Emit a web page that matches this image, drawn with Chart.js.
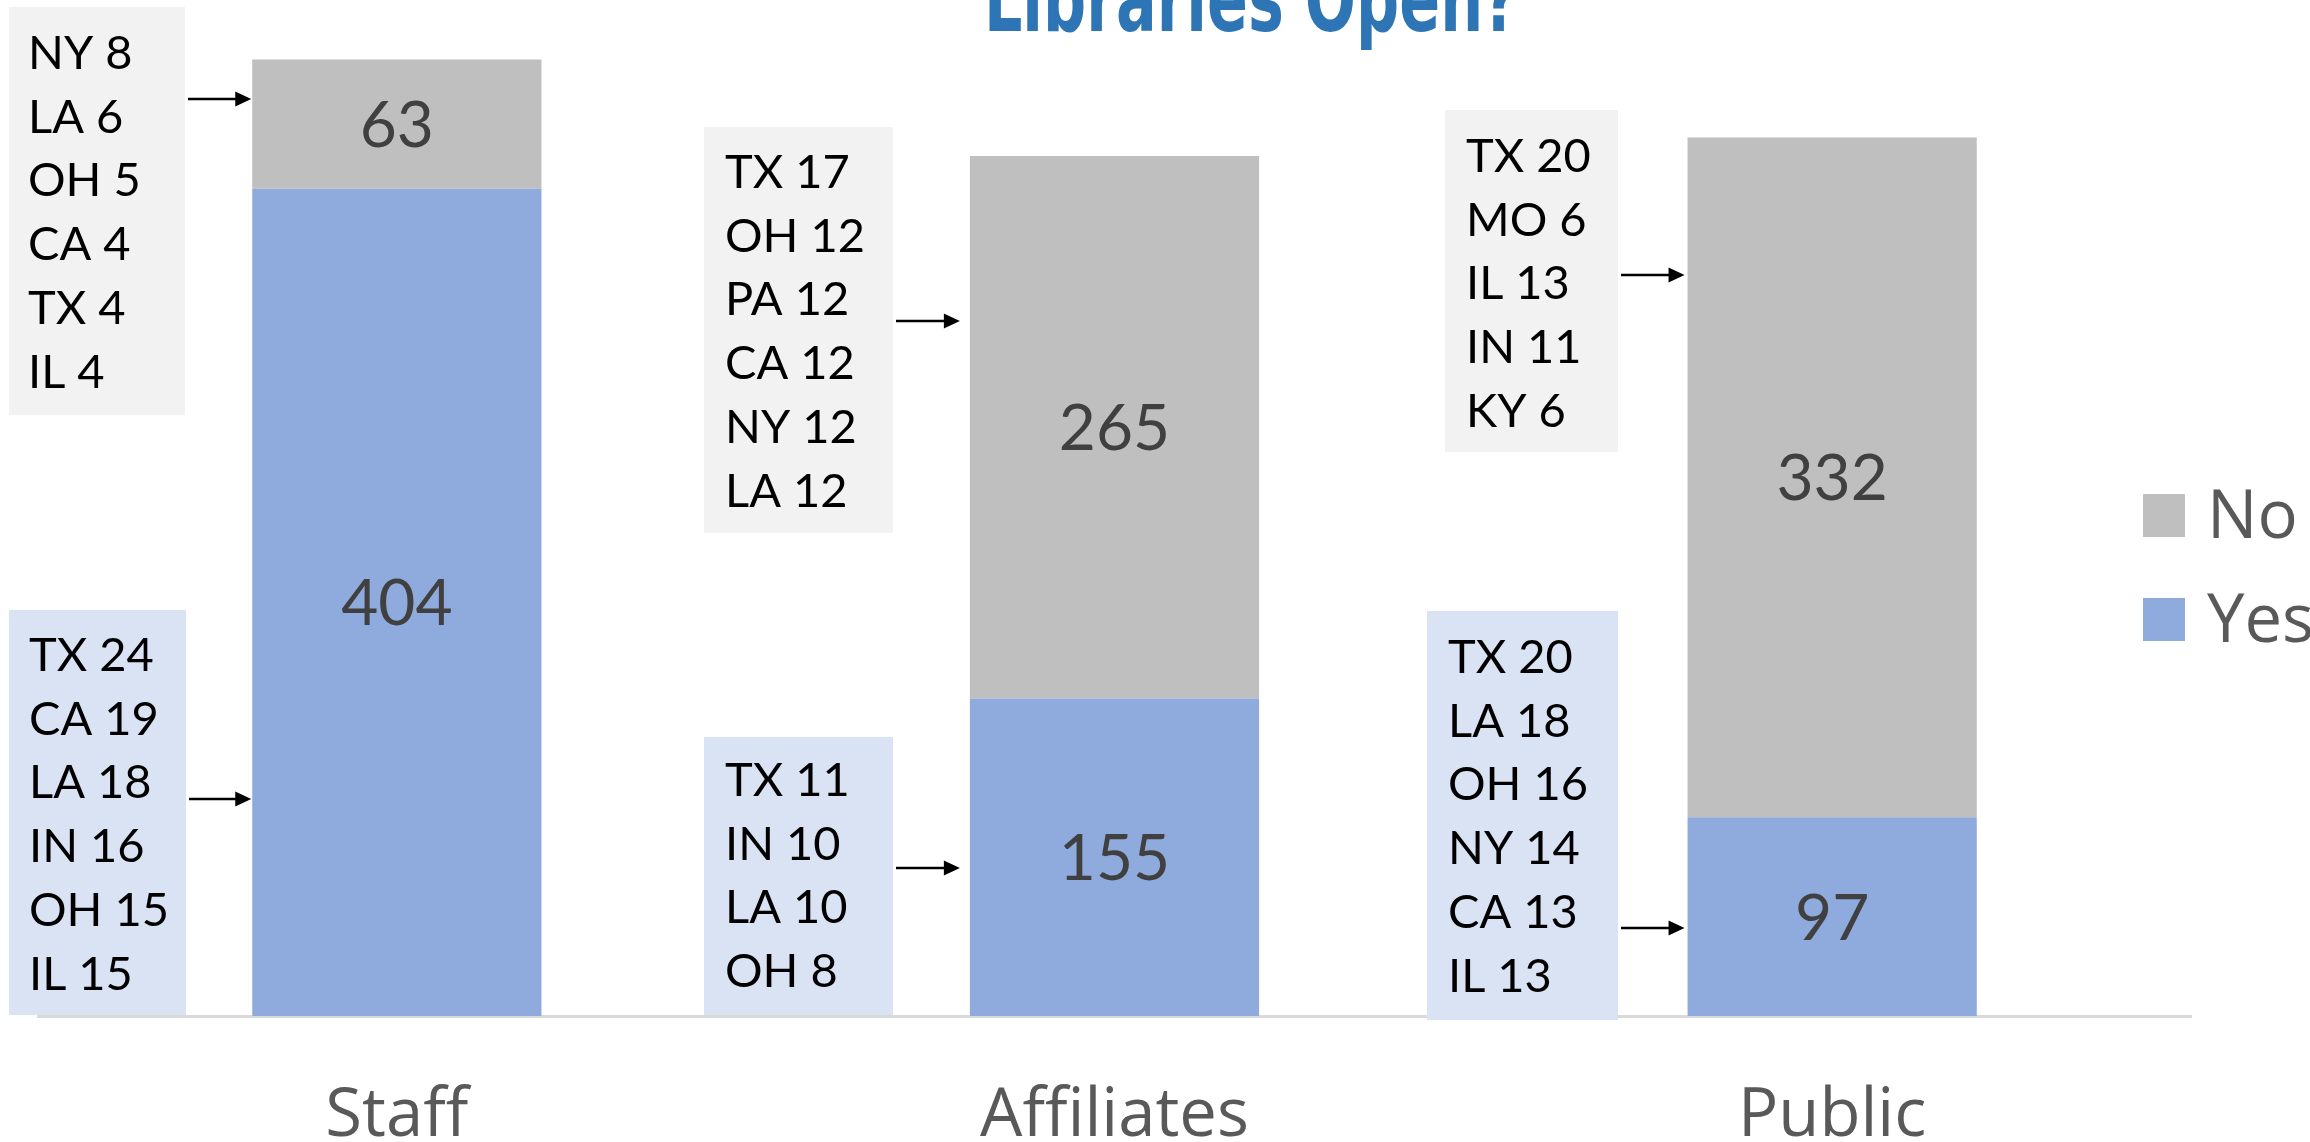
<!DOCTYPE html>
<html>
<head>
<meta charset="utf-8">
<script src="https://cdn.jsdelivr.net/npm/chart.js@4.4.1/dist/chart.umd.min.js"></script>
<style>
  html, body { margin: 0; padding: 0; background: #ffffff; }
  canvas { display: block; }
</style>
</head>
<body>
<canvas id="libChart" width="2310" height="1142"></canvas>
<script>
// Libraries Open? – stacked bars with state call-outs

const categories = ["Staff", "Affiliates", "Public"];
const yesValues = [404, 155, 97];
const noValues = [63, 265, 332];

const staffNoStates = ["NY", "LA", "OH", "CA", "TX", "IL"];
const staffNoCounts = [8, 6, 5, 4, 4, 4];
const staffYesStates = ["TX", "CA", "LA", "IN", "OH", "IL"];
const staffYesCounts = [24, 19, 18, 16, 15, 15];
const affNoStates = ["TX", "OH", "PA", "CA", "NY", "LA"];
const affNoCounts = [17, 12, 12, 12, 12, 12];
const affYesStates = ["TX", "IN", "LA", "OH"];
const affYesCounts = [11, 10, 10, 8];
const pubNoStates = ["TX", "MO", "IL", "IN", "KY"];
const pubNoCounts = [20, 6, 13, 11, 6];
const pubYesStates = ["TX", "LA", "OH", "NY", "CA", "IL"];
const pubYesCounts = [20, 18, 16, 14, 13, 13];

const YES_COLOR = "#8faadc";
const NO_COLOR = "#bfbfbf";

// call-out boxes: which bar they point at, and where they sit
const callouts = [
  { cat: 0, states: staffNoStates, counts: staffNoCounts, fill: "#f2f2f2", x: 9, y: 7, w: 176, h: 408, textX: 28, firstY: 52, arrowY: 99, gap: 1 },
  { cat: 0, states: staffYesStates, counts: staffYesCounts, fill: "#dae3f3", x: 9, y: 610, w: 177, h: 405, textX: 29, firstY: 654, arrowY: 799, gap: 1 },
  { cat: 1, states: affNoStates, counts: affNoCounts, fill: "#f2f2f2", x: 704, y: 127, w: 189, h: 406, textX: 725, firstY: 171, arrowY: 321, gap: 10 },
  { cat: 1, states: affYesStates, counts: affYesCounts, fill: "#dae3f3", x: 704, y: 737, w: 189, h: 278, textX: 725, firstY: 779, arrowY: 868, gap: 10 },
  { cat: 2, states: pubNoStates, counts: pubNoCounts, fill: "#f2f2f2", x: 1445, y: 110, w: 173, h: 342, textX: 1466, firstY: 155, arrowY: 275, gap: 3 },
  { cat: 2, states: pubYesStates, counts: pubYesCounts, fill: "#dae3f3", x: 1427, y: 611, w: 191, h: 409, textX: 1448, firstY: 656, arrowY: 928, gap: 3 }
];

const calloutPlugin = {
  id: "callouts",
  beforeDatasetsDraw(chart) {
    const ctx = chart.ctx;
    const bars = chart.getDatasetMeta(0).data;
    ctx.save();
    callouts.forEach((c) => {
      ctx.fillStyle = c.fill;
      ctx.fillRect(c.x, c.y, c.w, c.h);

      ctx.fillStyle = "#000000";
      ctx.font = "47px Lato";
      ctx.textAlign = "left";
      ctx.textBaseline = "alphabetic";
      c.states.forEach((s, i) => {
        ctx.fillText(s + " " + c.counts[i], c.textX, c.firstY + i * 63.7 + 17);
      });

      // arrow to the bar
      const bar = bars[c.cat];
      const tipX = bar.x - bar.width / 2 - c.gap;
      const startX = c.x + c.w + 3;
      ctx.strokeStyle = "#000000";
      ctx.lineWidth = 2.5;
      ctx.beginPath();
      ctx.moveTo(startX, c.arrowY);
      ctx.lineTo(tipX - 12, c.arrowY);
      ctx.stroke();
      ctx.beginPath();
      ctx.moveTo(tipX, c.arrowY);
      ctx.lineTo(tipX - 16, c.arrowY - 7.5);
      ctx.lineTo(tipX - 16, c.arrowY + 7.5);
      ctx.closePath();
      ctx.fill();
    });
    ctx.restore();
  }
};

const valueLabelPlugin = {
  id: "valueLabels",
  afterDatasetsDraw(chart) {
    const ctx = chart.ctx;
    ctx.save();
    ctx.font = "64px Lato";
    ctx.fillStyle = "#404040";
    ctx.textAlign = "center";
    ctx.textBaseline = "alphabetic";
    chart.data.datasets.forEach((ds, di) => {
      chart.getDatasetMeta(di).data.forEach((el, i) => {
        const p = el.getCenterPoint();
        ctx.fillText(ds.data[i], p.x, p.y + 23);
      });
    });
    ctx.restore();
  }
};

const titleAndLegendPlugin = {
  id: "titleLegend",
  afterDraw(chart) {
    const ctx = chart.ctx;
    ctx.save();
    // title, partly cut off at the top as in the source
    ctx.save();
    ctx.translate(1251, 31);
    ctx.scale(0.67, 1);
    ctx.font = "bold 90px 'DejaVu Sans', sans-serif";
    ctx.fillStyle = "#2e75b6";
    ctx.textAlign = "center";
    ctx.textBaseline = "alphabetic";
    ctx.fillText("Libraries Open?", 0, 0);
    ctx.restore();

    // legend, "No" above "Yes"
    const items = chart.data.datasets.slice().reverse();
    ctx.font = "67px 'Open Sans'";
    ctx.textAlign = "left";
    items.forEach((ds, i) => {
      const top = 494 + i * 104;
      ctx.fillStyle = ds.backgroundColor;
      ctx.fillRect(2143, top, 42, 43);
      ctx.fillStyle = "#595959";
      ctx.fillText(ds.label, 2207, top + 44);
    });
    ctx.restore();
  }
};

new Chart(document.getElementById("libChart"), {
  type: "bar",
  data: {
    labels: categories,
    datasets: [
      { label: "Yes", data: yesValues, backgroundColor: YES_COLOR, borderWidth: 0 },
      { label: "No", data: noValues, backgroundColor: NO_COLOR, borderWidth: 0 }
    ]
  },
  options: {
    responsive: false,
    animation: false,
    devicePixelRatio: 1,
    layout: { padding: { left: 38, right: 119, top: 33, bottom: 4 } },
    datasets: {
      bar: { categoryPercentage: 1, barPercentage: 0.403 }
    },
    scales: {
      x: {
        stacked: true,
        grid: { display: false, drawTicks: false },
        border: { display: true, color: "#d9d9d9", width: 3 },
        ticks: {
          color: "#595959",
          padding: 81,
          font: { family: "'Open Sans'", size: 67, lineHeight: 0.6 }
        },
        afterFit(scale) {
          scale.height = 122;
        }
      },
      y: {
        stacked: true,
        display: false,
        min: 0,
        max: 480
      }
    },
    plugins: {
      legend: { display: false },
      title: { display: false },
      tooltip: { enabled: false }
    }
  },
  plugins: [calloutPlugin, valueLabelPlugin, titleAndLegendPlugin]
});
</script>
</body>
</html>
